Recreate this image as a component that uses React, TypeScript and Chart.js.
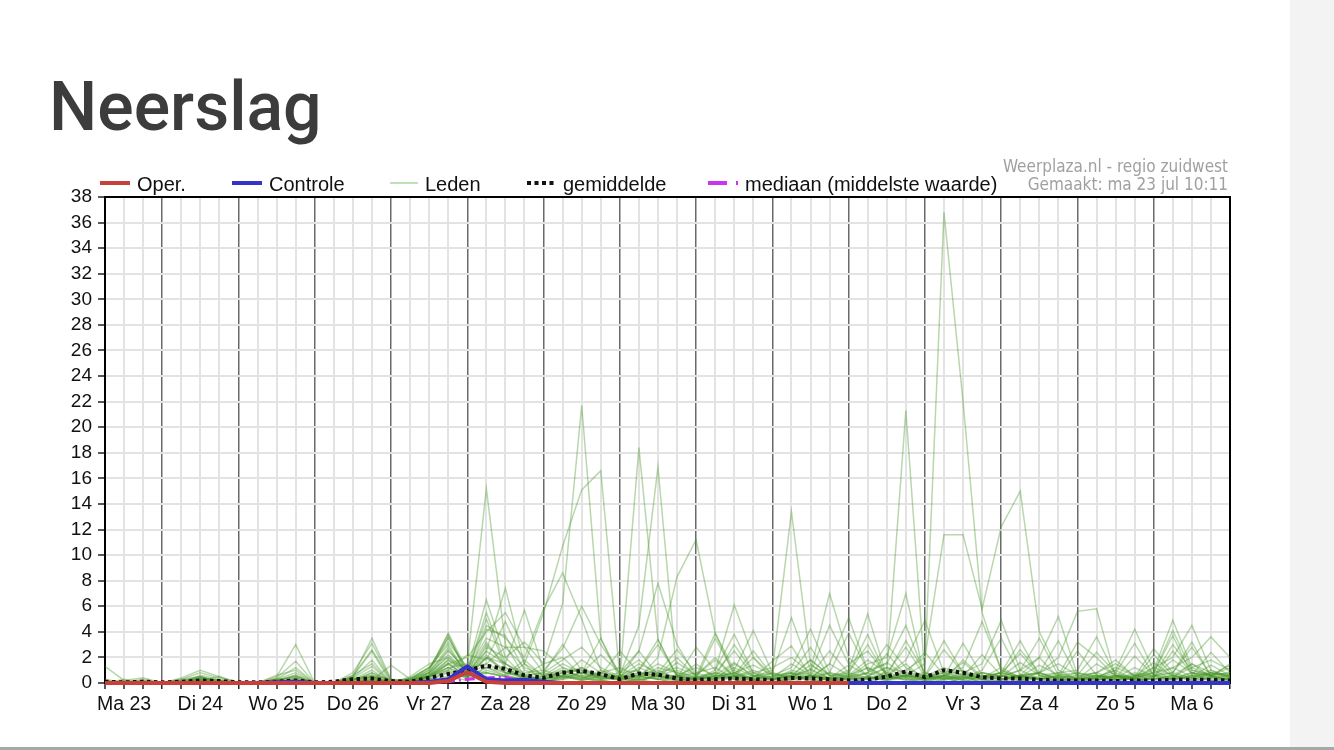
import React, { useEffect, useRef } from 'react';
import { Chart, registerables } from 'chart.js';

Chart.register(...registerables);

// ---- axis / category data ----
const dayLabels = ['Ma 23', 'Di 24', 'Wo 25', 'Do 26', 'Vr 27', 'Za 28', 'Zo 29', 'Ma 30', 'Di 31', 'Wo 1', 'Do 2', 'Vr 3', 'Za 4', 'Zo 5', 'Ma 6', 'Di 7'];
const startHour = 6;
const stepHours = 6;
const pointCount = 60;
const yMin = 0;
const yMax = 38;
const yStep = 2;

// ---- series (mm per 6h) ----
const oper = [0, 0, 0, 0, 0, 0, 0, 0, 0, 0, 0, 0, 0, 0, 0, 0, 0, 0, 0.15, 0.85, 0.1, 0, 0, 0, 0, 0, 0, 0, 0, 0, 0, 0, 0, 0, 0, 0, 0, 0, 0, 0];
const controle = [0, 0, 0, 0, 0, 0, 0, 0, 0, 0.05, 0.1, 0, 0, 0, 0, 0, 0, 0.1, 0.3, 1.3, 0.3, 0.2, 0.25, 0.1, 0, 0, 0, 0, 0, 0, 0, 0, 0, 0, 0, 0, 0, 0, 0, 0, 0, 0, 0, 0, 0, 0, 0, 0, 0, 0, 0, 0, 0, 0, 0, 0, 0, 0, 0, 0];
const gemiddelde = [0.1, 0.05, 0.1, 0.05, 0.1, 0.2, 0.15, 0.05, 0.05, 0.1, 0.2, 0.05, 0.1, 0.3, 0.35, 0.15, 0.1, 0.4, 0.7, 1.0, 1.35, 1.1, 0.6, 0.4, 0.8, 0.95, 0.7, 0.3, 0.75, 0.65, 0.35, 0.25, 0.3, 0.35, 0.3, 0.2, 0.4, 0.35, 0.3, 0.2, 0.25, 0.5, 0.9, 0.45, 1.0, 0.8, 0.45, 0.35, 0.35, 0.25, 0.2, 0.2, 0.2, 0.15, 0.2, 0.2, 0.25, 0.25, 0.25, 0.2];
const mediaan = [0, 0, 0, 0, 0, 0, 0, 0, 0, 0, 0, 0, 0, 0, 0, 0, 0, 0, 0.1, 0.3, 0.4, 0.45, 0.1, 0, 0, 0, 0, 0, 0, 0, 0, 0, 0, 0, 0, 0, 0, 0, 0, 0, 0, 0, 0, 0, 0, 0, 0, 0, 0, 0, 0, 0, 0, 0, 0, 0, 0, 0, 0, 0];

// ensemble members ("Leden")
const m01 = [0, 0, 0, 0, 0, 0.2, 0, 0, 0, 0, 0, 0, 0, 0, 0.3, 0, 0, 0.5, 1.2, 1.5, 15.2, 3, 0.5, 0.2, 1, 0.5, 0, 0, 0.3, 0.5, 0.2, 0, 0.4, 1.2, 0.5, 1, 13.4, 1.5, 0.3, 0, 0.5, 1.2, 0.4, 0, 0.3, 0.5, 0, 0.2, 0.6, 0.3, 0, 0, 0.5, 1, 0.3, 0.4, 2.5, 0.8, 0.2, 0.3];
const m02 = [0, 0, 0, 0, 0.3, 0.5, 0, 0, 0, 0.2, 0.6, 0, 0, 0, 0.4, 0, 0.2, 0.6, 2.2, 0.8, 2.5, 7.4, 1.5, 0, 0.5, 1.2, 0.3, 0.6, 4.5, 16.9, 0.5, 0.2, 0.8, 0.3, 0, 0, 0.5, 0.3, 0.8, 0.4, 0, 0.6, 1.5, 0.2, 0, 0.4, 0.3, 0, 0.5, 0.3, 0.2, 0, 0.4, 1, 4.2, 1, 0.3, 0, 0.5, 0.2];
const m03 = [0.3, 0, 0.2, 0, 0, 0, 0, 0, 0, 0.3, 0.4, 0, 0, 0.2, 0.8, 0, 0, 0.4, 1.5, 0.5, 1.2, 0.8, 0.6, 1.5, 6.2, 21.7, 3.5, 0.3, 0, 0.8, 0.4, 0, 0.3, 1.5, 0.6, 0.2, 0.8, 0, 0.4, 1, 5.4, 0.5, 0.3, 0, 0.6, 1, 0.3, 0, 0.2, 0.8, 0.3, 0, 0.2, 0.6, 0.3, 1.2, 2, 4.5, 1, 0.4];
const m04 = [0, 0, 0, 0, 0, 0, 0, 0, 0, 0, 0.2, 0, 0, 0, 0, 0, 0.2, 0.8, 2.8, 0.6, 0.8, 0.5, 1.5, 5.5, 10.7, 15.1, 16.6, 0.5, 0.3, 0, 0.6, 0.3, 0, 0.5, 0.2, 0, 0.4, 1.1, 0.3, 0.5, 1.5, 2.0, 7.0, 0.3, 0.5, 0, 0.2, 0.4, 0.2, 0, 0.3, 0.2, 0.6, 0.3, 0, 0.5, 1.2, 2, 3.6, 2.0];
const m05 = [0, 0, 0, 0, 0, 0, 0, 0, 0, 0, 0, 0, 0, 0.3, 0.6, 0, 0, 0.3, 0.9, 0.4, 2, 1, 0.3, 0, 0.4, 0.8, 0.5, 0.3, 18.4, 3.4, 0.5, 0, 0.2, 0.6, 0.3, 0, 0.3, 0.6, 0.2, 0, 0.4, 0.2, 0.6, 1.5, 36.8, 22, 5.5, 1, 0.3, 0, 0.2, 0, 0.2, 0.5, 0.2, 0.3, 0.6, 0.2, 0.8, 0.5];
const m06 = [0, 0, 0, 0, 0.2, 0.4, 0, 0, 0, 0, 0, 0, 0, 0, 0.2, 0, 0, 0.3, 0.5, 0.2, 1, 0.6, 0.3, 0.5, 1.2, 0.4, 0.2, 0, 0.4, 2, 8.3, 11.2, 3.9, 1, 0.3, 0, 0.3, 0.5, 0.2, 0.3, 0, 1, 21.3, 0.5, 0.3, 0.6, 0, 0.3, 0.5, 0.2, 0, 0.3, 0.2, 0.5, 0.6, 0.2, 0.4, 1.5, 0.5, 0.3];
const m07 = [0, 0, 0, 0, 0, 0, 0, 0, 0, 0, 0, 0, 0, 0.4, 0, 0, 0.3, 1, 3.9, 1, 0.8, 0.5, 0.3, 0, 0.6, 0.3, 0.8, 0.2, 0.5, 0.3, 0, 0.4, 0.2, 0, 0.5, 0.3, 0, 0.6, 0.4, 0.2, 0.5, 0.3, 1, 2, 11.6, 11.6, 5.8, 12.2, 15, 4, 1, 0.3, 0.5, 0.2, 0.4, 0, 0.3, 0.6, 0.2, 0.4];
const m08 = [0, 0, 0, 0, 0, 0.3, 0.2, 0, 0, 0, 0, 0, 0, 0, 0.5, 0, 0, 0.5, 1.8, 1, 6.5, 2, 0.5, 0.3, 0.5, 0.2, 0.6, 0.4, 2.5, 7.8, 3, 0.5, 0.3, 0.8, 0.2, 0, 0.5, 0.3, 0, 0.4, 0.8, 0.3, 0.5, 0.2, 0.4, 0, 0.6, 0.3, 0.5, 0.8, 2, 5.6, 5.8, 0.5, 0.2, 0, 0.4, 0.3, 0.6, 0.2];
const m09 = [0, 0, 0, 0, 0, 0.4, 0.2, 0, 0, 0.5, 3.0, 0, 0, 0.5, 3.5, 0.3, 0.2, 1, 3.8, 0.6, 1.5, 0.8, 0.4, 0.2, 0.3, 0.5, 0.2, 0, 0.3, 0.6, 0.2, 0.3, 1, 6.1, 2, 0.3, 0.5, 0.2, 0.4, 0, 0.3, 0.6, 0.2, 0.3, 0.5, 0.2, 0, 0.2, 0.6, 0.3, 0.5, 0.2, 0, 0.3, 0.8, 0.5, 0.2, 0.6, 0.4, 0.3];
const m10 = [0, 0, 0, 0, 0, 0.2, 0, 0, 0, 0, 0.3, 0, 0, 0.8, 3.1, 0.2, 0, 0.8, 3.6, 0.8, 5.5, 1.5, 0.6, 0.3, 0.6, 0.2, 0.5, 0.2, 0.5, 0.3, 0.6, 0.2, 0.5, 0.3, 0.2, 0.3, 0.6, 1, 7, 2, 0.5, 0.3, 0.6, 0.4, 0.2, 0.5, 0.3, 0.6, 0.2, 0.4, 0.2, 0.3, 0.6, 0.2, 0.5, 1, 4.9, 1.2, 0.6, 0.5];
const m11 = [1.3, 0.2, 0.4, 0, 0.4, 1, 0.5, 0, 0, 0.4, 1.7, 0, 0, 0.6, 2.6, 0.2, 0.3, 1.2, 3.5, 1, 5, 1.2, 0.4, 0.5, 0.8, 0.3, 0.2, 0.4, 0.2, 0.5, 0.3, 0.2, 0.6, 0.4, 0.2, 0.8, 5.1, 1, 0.4, 0.3, 0.5, 0.2, 0.4, 0.2, 0.6, 0.3, 0.8, 0.5, 1, 2, 5.2, 0.6, 0.3, 0.5, 0.2, 0.3, 0.6, 0.2, 0.4, 0.6];
const m12 = [0.2, 0, 0.3, 0, 0.3, 0.8, 0.4, 0, 0, 0, 0.2, 0, 0, 0.3, 0.4, 0, 0.3, 0.6, 2.5, 1, 4.5, 3.5, 2, 5.8, 8.6, 5, 1, 0.4, 0.2, 0.6, 0.3, 0.5, 0.3, 1, 4.1, 0.8, 0.3, 0.5, 0.2, 0.4, 0.3, 0.8, 0.5, 0.6, 0.3, 0.8, 1.5, 4.9, 1, 0.3, 0.5, 0.2, 0.4, 0.6, 0.2, 0.4, 0.3, 0.8, 0.5, 0.3];
const m13 = [0, 0.3, 0, 0, 0, 0.5, 0.2, 0, 0, 0.3, 1.2, 0, 0, 0.2, 0.8, 0.2, 0, 0.5, 1.5, 2, 4, 5.5, 2.8, 0.8, 0.4, 0.6, 0.3, 0.5, 0.8, 0.3, 0.2, 0.4, 0.5, 3, 0.8, 0.3, 0.6, 0.4, 1.5, 5.1, 1, 1.5, 4.5, 0.6, 0.4, 0.3, 0.5, 0.8, 3.3, 0.6, 0.2, 0.4, 0.3, 0.2, 0.6, 0.3, 0.5, 0.4, 0.2, 0.2];
const m14 = [0, 0, 0, 0, 0.2, 0.3, 0, 0, 0, 0.2, 0.5, 0, 0, 0.3, 1, 0, 0.5, 1.5, 2, 1, 3.5, 2.8, 2.8, 2.5, 1.2, 0.8, 3.5, 0.6, 1, 3.4, 0.5, 0.3, 3.5, 0.8, 0.3, 0.5, 0.2, 0.6, 0.3, 0.8, 3, 0.5, 0.3, 0.4, 0.6, 0.2, 0.3, 0.5, 1, 3.5, 0.6, 0.3, 0.4, 0.8, 3.1, 0.6, 0.3, 0.5, 0.8, 0.4];
const m15 = [0, 0, 0, 0, 0, 0, 0, 0, 0, 0.2, 0.6, 0, 0, 0.4, 1.3, 0, 0.2, 0.6, 1.2, 0.6, 3, 1.5, 0.8, 1, 2.7, 6, 3, 0.8, 2.5, 0.6, 1, 0.4, 0.6, 0.5, 2, 0.6, 1.2, 4.2, 0.8, 0.5, 0.3, 0.6, 3.3, 0.8, 0.5, 3.1, 0.6, 0.3, 0.6, 0.4, 0.8, 1, 3.6, 0.6, 0.4, 0.8, 4.1, 1, 0.6, 0.8];
const m16 = [0, 0.2, 0, 0, 0, 0.6, 0.3, 0, 0, 0.6, 1, 0, 0, 0, 0.3, 0, 0, 0.5, 1.5, 0.5, 2.5, 1.5, 0.5, 0.3, 0.8, 1.2, 0.5, 0.3, 0.6, 1, 0.4, 2.8, 1, 3.8, 0.8, 1.2, 2, 0.8, 4.5, 1.5, 2.5, 0.6, 1.8, 4.9, 0.8, 0.4, 1, 3.5, 0.6, 0.8, 3.3, 0.4, 0.6, 0.3, 0.5, 2.7, 0.8, 3.2, 0.5, 1.5];
const m17 = [0, 0, 0, 0, 0, 0.3, 0, 0, 0, 0, 0, 0, 0, 0.2, 0.5, 0, 0.4, 1.2, 3, 0.6, 2.2, 0.8, 0.5, 0.8, 3, 1, 0.6, 2.5, 0.8, 0.6, 2, 0.5, 0.8, 2.5, 0.6, 0.4, 0.8, 2.8, 0.5, 0.3, 0.8, 3, 1.2, 0.5, 2.6, 0.8, 0.3, 0.6, 2.6, 0.8, 0.4, 0.5, 0.8, 1.5, 0.6, 0.8, 3.7, 0.6, 2.4, 0.8];
const m18 = [0, 0, 0, 0, 0, 0.2, 0.5, 0, 0, 0.3, 0.2, 0, 0, 0, 0.2, 1.4, 0.3, 0.5, 1, 0.5, 2, 1.5, 5.7, 1, 0.5, 0.8, 0.3, 0.6, 0.4, 1.2, 0.8, 0.5, 3.9, 0.6, 0.4, 1.7, 2.9, 0.5, 0.8, 3.9, 1, 0.4, 0.6, 0.5, 0.8, 1.2, 4.8, 1, 0.5, 0.3, 0.6, 3.2, 2, 0.5, 0.3, 2.2, 0.6, 0.4, 0.8, 0.6];
const m19 = [0, 0, 0, 0, 0, 0, 0, 0, 0, 0.3, 0.8, 0, 0, 0.4, 1.8, 0, 0, 0.6, 1.8, 0.6, 4.2, 3.7, 1, 0.5, 0.3, 0.8, 2.2, 0.8, 1, 3, 0.6, 0.4, 0.8, 0.6, 2.5, 0.6, 0.5, 1.8, 0.6, 0.8, 3.8, 0.5, 0.8, 0.6, 3.3, 0.8, 0.4, 0.8, 2.3, 0.6, 0.4, 2.5, 0.6, 0.4, 2.1, 0.6, 0.8, 2.8, 0.6, 1.2];
const m20 = [0.2, 0, 0, 0, 0.2, 0.5, 0, 0, 0, 0, 0.4, 0, 0, 0.5, 2.5, 0, 0.3, 1.2, 3.2, 1.2, 1.5, 2.8, 1.2, 0.6, 1.5, 0.8, 0.4, 0.5, 1.5, 0.8, 1.2, 0.6, 1.8, 0.5, 1, 0.4, 1.5, 0.6, 2.5, 0.8, 0.4, 2.3, 0.6, 0.4, 1, 0.6, 0.8, 0.5, 0.6, 2, 0.4, 0.6, 2.4, 0.8, 0.3, 0.5, 3, 1, 0.6, 0.8];
const m21 = [0, 0, 0, 0, 0, 0, 0, 0, 0, 0, 0.3, 0, 0, 0, 0, 0, 0.2, 0.8, 2.6, 0.8, 3.2, 1.2, 0.3, 0.4, 0.6, 1.8, 0.8, 0.3, 1.2, 0.6, 0.4, 1.5, 0.4, 0.8, 0.3, 0.5, 0.8, 0.4, 1.5, 0.6, 1.2, 0.4, 0.5, 0.3, 0.5, 1.6, 0.4, 1.2, 0.4, 0.8, 0.3, 0.4, 0.8, 1.8, 0.5, 1.6, 0.5, 1.2, 1.8, 1];
const m22 = [0, 0, 0, 0, 0, 0.4, 0.2, 0, 0, 0, 0, 0, 0, 0.3, 0.6, 0.3, 0, 0.5, 1, 2.2, 1.8, 4.8, 1.5, 0.6, 1, 0.4, 0.8, 1.2, 0.5, 0.8, 2.6, 0.8, 1.2, 0.3, 0.6, 0.3, 1, 0.6, 0.4, 1.4, 0.6, 1.2, 0.8, 2.4, 0.6, 0.4, 0.8, 0.5, 1.6, 0.6, 0.8, 0.3, 1.5, 0.6, 0.4, 0.8, 1.2, 0.5, 1.4, 0.6];
const m23 = [0, 0, 0, 0, 0, 0, 0, 0, 0, 0.2, 0.5, 0, 0, 0.6, 1.5, 0, 0.4, 0.8, 2, 0.6, 2.8, 2, 3.2, 1.5, 2, 0.6, 0.5, 0.8, 1.8, 0.5, 0.6, 1.2, 0.6, 1.6, 0.5, 0.8, 0.4, 1.4, 0.6, 0.6, 1.8, 0.8, 2.8, 0.5, 1.2, 0.6, 0.4, 0.8, 0.5, 1.4, 0.6, 0.8, 0.5, 0.4, 1.2, 0.5, 1.8, 0.8, 0.6, 1.4];
const m24 = [0, 0, 0, 0, 0, 0.3, 0, 0, 0, 0, 0, 0, 0, 0, 0.3, 0, 0, 0.3, 0.8, 0.5, 2, 0.8, 0.6, 0.8, 1.8, 2.8, 1.2, 0.5, 0.6, 1.5, 0.8, 0.3, 0.5, 0.8, 1.4, 0.6, 0.8, 0.5, 0.3, 0.5, 0.8, 1.6, 0.6, 0.8, 0.3, 1.8, 0.5, 0.3, 0.6, 0.8, 1.5, 0.6, 0.8, 0.3, 0.5, 1.2, 0.6, 1.5, 0.8, 0.6];
const m25 = [0, 0, 0.2, 0, 0, 0.2, 0, 0, 0, 0, 0, 0, 0, 0, 0.2, 0, 0, 0.6, 1.6, 0.4, 1.2, 0.6, 1.8, 0.5, 0.8, 1, 0.4, 0.3, 0.8, 0.5, 1.6, 0.6, 2, 0.5, 0.8, 0.3, 0.6, 1.8, 0.6, 0.4, 1.2, 0.5, 0.6, 0.3, 0.8, 0.5, 2.2, 0.6, 0.3, 0.5, 0.4, 0.8, 0.4, 1.2, 0.6, 0.5, 0.8, 0.4, 1, 0.5];
const m26 = [0, 0, 0, 0, 0, 0, 0.2, 0, 0, 0, 0.2, 0, 0, 0.2, 0.5, 0, 0.2, 0.4, 1.2, 0.3, 0.8, 0.5, 0.3, 0.2, 0.5, 0.3, 1, 0.4, 0.6, 0.3, 0.5, 0.8, 0.3, 0.5, 0.4, 0.2, 0.6, 0.8, 0.3, 0.6, 0.4, 0.3, 0.5, 0.4, 0.6, 0.3, 0.5, 0.8, 0.4, 0.3, 0.6, 0.4, 0.3, 0.6, 0.4, 0.6, 0.4, 0.8, 0.5, 0.4];
const leden = [m01, m02, m03, m04, m05, m06, m07, m08, m09, m10, m11, m12, m13, m14, m15, m16, m17, m18, m19, m20, m21, m22, m23, m24, m25, m26];

// ---- texts ----
const titleText = 'Neerslag';
const legendNames = ['Oper.', 'Controle', 'Leden', 'gemiddelde', 'mediaan (middelste waarde)'];
const creditLines = ['Weerplaza.nl - regio zuidwest', 'Gemaakt: ma 23 jul 10:11'];

// ---- colours ----
const operColor = '#c8403a';
const controleColor = '#3434c8';
const ledenColor = 'rgba(70,150,40,0.38)';
const ledenLegendColor = '#a9d79c';
const meanColor = '#111111';
const medianColor = '#cc33ee';
const FONT = '"Liberation Sans", Arial, sans-serif';

// derived category labels (hour offsets from Ma 23 06:00)
const hoursFromStart = Array.from({ length: pointCount }, (_, i) => startHour + i * stepHours);
const timeLabels = hoursFromStart.map((h) => `${dayLabels[Math.floor(h / 24)]} ${String(h % 24).padStart(2, '0')}:00`);

const decorPlugin = {
  id: 'decor',
  beforeDatasetsDraw(chart: any) {
    const ctx = chart.ctx as CanvasRenderingContext2D;
    const { left, top, right, bottom } = chart.chartArea;
    ctx.save();
    ctx.strokeStyle = '#000';
    ctx.lineWidth = 2;
    ctx.setLineDash([]);
    ctx.strokeRect(left, top, right - left, bottom - top);
    ctx.restore();
  },
  afterDraw(chart: any) {
    const ctx = chart.ctx as CanvasRenderingContext2D;
    const { left, top, right } = chart.chartArea;
    ctx.save();
    // legend
    const ly = top - 14;
    const ty = top - 6.5;
    ctx.font = `20px ${FONT}`;
    ctx.textBaseline = 'alphabetic';
    ctx.textAlign = 'left';
    const line = (x1: number, x2: number, color: string, w: number, dash: number[]) => {
      ctx.beginPath();
      ctx.strokeStyle = color;
      ctx.lineWidth = w;
      ctx.setLineDash(dash);
      ctx.moveTo(x1, ly);
      ctx.lineTo(x2, ly);
      ctx.stroke();
    };
    line(left - 5, left + 25, operColor, 4, []);
    line(left + 127, left + 157, controleColor, 4, []);
    line(left + 285, left + 313, ledenLegendColor, 1.5, []);
    line(left + 422, left + 450, meanColor, 4, [4, 3.5]);
    line(left + 603, left + 622, medianColor, 4, []);
    line(left + 631, left + 633, medianColor, 4, []);
    ctx.setLineDash([]);
    ctx.fillStyle = '#111';
    const textX = [left + 32, left + 164, left + 320, left + 458, left + 640];
    legendNames.forEach((t, k) => ctx.fillText(t, textX[k], ty));

    // credits
    ctx.fillStyle = '#a0a0a0';
    ctx.textAlign = 'right';
    ctx.font = `17px "Liberation Sans Narrow", "DejaVu Sans Condensed", sans-serif`;
    ctx.fillText(creditLines[0], right - 2, top - 25);
    ctx.fillText(creditLines[1], right - 2, top - 7);
    ctx.restore();
  },
};

export default function App() {
  const canvasRef = useRef<HTMLCanvasElement | null>(null);

  useEffect(() => {
    const canvas = canvasRef.current;
    if (!canvas) return;
    const datasets: any[] = [
      { label: 'Oper.', data: oper, borderColor: operColor, borderWidth: 4, clip: false },
      { label: 'Controle', data: controle, borderColor: controleColor, borderWidth: 4, clip: false },
      { label: 'gemiddelde', data: gemiddelde, borderColor: meanColor, borderWidth: 4, borderDash: [3.5, 3.5], clip: false },
      { label: 'mediaan', data: mediaan, borderColor: medianColor, borderWidth: 3, borderDash: [10, 4, 2, 4], clip: false },
      ...leden.map((m, k) => ({ label: `Lid ${k + 1}`, data: m, borderColor: ledenColor, borderWidth: 1.5 })),
    ];
    const isMidnight = (i: number) => hoursFromStart[i] % 24 === 0;
    const chart = new Chart(canvas, {
      type: 'line',
      data: { labels: timeLabels, datasets },
      plugins: [decorPlugin],
      options: {
        animation: false,
        responsive: false,
        maintainAspectRatio: false,
        devicePixelRatio: 1,
        layout: { padding: { left: 0, top: 197, right: 60, bottom: 0 } },
        elements: { point: { radius: 0 }, line: { tension: 0, borderCapStyle: 'butt', borderJoinStyle: 'miter' } },
        plugins: { legend: { display: false }, tooltip: { enabled: false } },
        scales: {
          x: {
            type: 'category',
            offset: false,
            afterFit: (s: any) => { s.height = 67; },
            border: { display: true, color: '#000', width: 2 },
            grid: {
              color: (c: any) => (isMidnight(c.index) ? '#6a6a6a' : '#e3e3e3'),
              lineWidth: (c: any) => (isMidnight(c.index) ? 1.5 : 2),
              tickColor: '#222',
              tickLength: 6,
              tickWidth: 1.5,
              drawTicks: true,
            },
            ticks: {
              autoSkip: false,
              maxRotation: 0,
              minRotation: 0,
              padding: 4,
              color: '#111',
              font: { family: FONT, size: 19.5 },
              callback: (_v: any, i: number) => {
                const h = hoursFromStart[i];
                return h % 24 === 12 ? dayLabels[Math.floor(h / 24)] : '';
              },
            },
          },
          y: {
            min: yMin,
            max: yMax,
            afterFit: (s: any) => { s.width = 105; },
            border: { display: true, color: '#000', width: 2 },
            grid: { color: '#e3e3e3', lineWidth: 2, tickColor: '#222', tickLength: 7, tickWidth: 1.5 },
            ticks: { stepSize: yStep, autoSkip: false, padding: 6, color: '#111', font: { family: FONT, size: 19 } },
          },
        },
      },
    });
    return () => chart.destroy();
  }, []);

  return (
    <div style={{ position: 'fixed', left: 0, top: 0, width: 1334, height: 750, background: '#fff', overflow: 'hidden' }}>
      <div style={{ position: 'absolute', left: 1290, top: 0, width: 44, height: 750, background: '#f3f3f3' }} />
      <div style={{ position: 'absolute', left: 0, top: 747, width: 1334, height: 3, background: '#a8a8a8' }} />
      <div
        style={{
          position: 'absolute',
          left: 49,
          top: 73,
          margin: 0,
          fontFamily: 'Roboto, sans-serif',
          fontWeight: 500,
          fontSize: 68,
          lineHeight: '68px',
          color: '#3c3c3c',
          whiteSpace: 'nowrap',
        }}
      >
        {titleText}
      </div>
      <canvas ref={canvasRef} width={1290} height={750} style={{ position: 'absolute', left: 0, top: 0, width: 1290, height: 750 }} />
    </div>
  );
}
